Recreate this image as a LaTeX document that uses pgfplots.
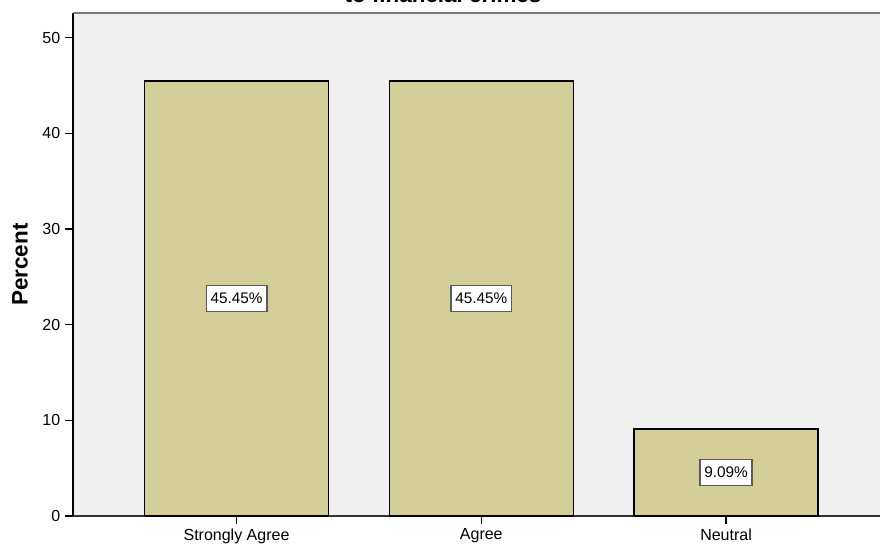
\documentclass[border=0pt]{standalone}
\usepackage{pgfplots}
\pgfplotsset{compat=1.18}
\usepackage{pgfplotstable}
\usepackage{fontspec}
\setmainfont{Liberation Sans}

\definecolor{barfill}{HTML}{D3CE98}
\definecolor{plotbg}{HTML}{F0F0F0}
\definecolor{labelframe}{HTML}{5A5A5A}
\definecolor{topframe}{HTML}{7A7A7A}

% percentage of respondents per answer
\pgfplotstableread{
pos value
0   45.45
1   45.45
2   9.09
}\responses

\begin{document}
\begin{tikzpicture}
\begin{axis}[
  at={(54.75pt,21.75pt)}, anchor=south west,
  scale only axis, width=605.25pt, height=377.25pt,
  xmin=-0.668, xmax=2.629, ymin=0, ymax=52.56,
  axis background/.style={fill=plotbg},
  axis x line*=bottom, axis y line*=left,
  x axis line style={draw=black!80, line width=1.2pt},
  y axis line style={draw=black, line width=1.1pt},
  xtick={0,1,2}, xticklabels={Strongly Agree, Agree, Neutral},
  ytick={0,10,20,30,40,50},
  tick align=outside,
  major tick length=6pt,
  tick style={black, line width=1pt},
  ticklabel style={font=\fontsize{12}{14}\selectfont},
  /pgf/number format/assume math mode=true,
  ylabel={Percent},
  every axis y label/.style={at={(axis description cs:-0.0657,0.5)}, rotate=90, anchor=center,
    font=\bfseries\fontsize{16.8}{20}\selectfont},
  clip=false,
]
\addplot[ybar, bar width=138pt, fill=barfill, draw=black, line width=1pt]
  table[x=pos, y=value]{\responses};

% value labels sit at the middle of each bar
\addplot[draw=none, mark=none,
  point meta=\thisrow{value},
  nodes near coords={\pgfmathprintnumber[fixed, fixed zerofill, precision=2]{\pgfplotspointmeta}\%},
  nodes near coords align=center,
  every node near coord/.style={anchor=center, fill=white, draw=labelframe, line width=1.1pt,
    font=\fontsize{11.5}{13}\selectfont, inner xsep=3.2pt, minimum height=19.5pt}]
  table[x=pos, y expr=\thisrow{value}/2]{\responses};

\draw[topframe, line width=1.5pt] (rel axis cs:0,1) -- (rel axis cs:1,1);
\end{axis}

\node[anchor=base, inner sep=0pt, font=\bfseries\fontsize{16.8}{20}\selectfont]
  at (332.25pt,406.5pt) {to financial crimes};

\pgfresetboundingbox
\useasboundingbox (0,0) rectangle (660pt,408.75pt);
\end{tikzpicture}
\end{document}
